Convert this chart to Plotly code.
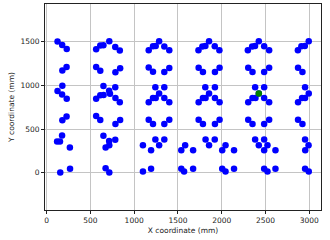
import plotly.graph_objects as go

# Blue points (mm)
x_blue = [
    125, 178, 230, 228, 180, 180, 125, 177, 230, 228, 180, 177, 120, 153, 266, 156, 268,
    566, 613, 649, 716, 784, 836, 566, 613, 786, 840,
    649, 784, 714, 724, 566, 613, 651, 786, 836,
    566, 613, 786, 840, 649, 784, 714, 716, 674, 674, 716,
    1166, 1215, 1246, 1285, 1344, 1401, 1166, 1215, 1344, 1401,
    1242, 1344, 1285, 1215, 1246, 1166, 1344, 1401,
    1166, 1215, 1344, 1401, 1100, 1193, 1242, 1285, 1344, 1100, 1193,
    1734, 1779, 1813, 1855, 1920, 1973, 1736, 1785, 1922, 1975,
    1812, 1922, 1855, 1785, 1815, 1736, 1922, 1975,
    1736, 1785, 1922, 1975, 1815, 1855, 1920,
    1538, 1582, 1673, 1538, 1570, 1673,
    2005, 2043, 2140, 2005, 2043, 2140,
    2298, 2347, 2380, 2423, 2484, 2541, 2302, 2351, 2484, 2541,
    2381, 2484, 2423, 2351, 2385, 2302, 2484, 2541,
    2302, 2351, 2484, 2541, 2381, 2423, 2484, 2484, 2522, 2613,
    2484, 2522, 2613,
    2869, 2909, 2948, 2993, 2871, 2921,
    2951, 2993, 2917, 2951, 2871, 2871, 2921,
    2951, 2991, 2953, 2951, 2993,
]
y_blue = [
    1500, 1460, 1415, 1208, 1168, 995, 933, 895, 846, 642, 600, 426, 358, 358, 289, 4, 46,
    1412, 1454, 1458, 1504, 1438, 1396, 1210, 1165, 1150, 1195,
    993, 978, 938, 904, 845, 887, 890, 853, 805,
    648, 603, 558, 602, 423, 377, 362, 314, 289, 50, 4,
    1401, 1445, 1448, 1504, 1444, 1399, 1203, 1155, 1152, 1198,
    978, 978, 906, 853, 853, 807, 853, 807,
    605, 556, 556, 605, 314, 257, 380, 314, 380, 13, 46,
    1399, 1443, 1448, 1504, 1447, 1399, 1199, 1153, 1153, 1199,
    978, 978, 906, 853, 853, 807, 853, 807,
    605, 556, 556, 605, 380, 314, 380,
    257, 314, 257, 46, 13, 46,
    257, 314, 257, 46, 13, 46,
    1399, 1443, 1448, 1504, 1447, 1399, 1199, 1153, 1153, 1199,
    978, 978, 906, 853, 853, 807, 853, 807,
    605, 556, 556, 605, 380, 314, 380, 257, 314, 257,
    46, 13, 46,
    1399, 1447, 1448, 1504, 1199, 1153,
    978, 906, 853, 853, 807, 605, 556,
    380, 314, 257, 46, 13,
]

# Highlighted point (mm)
x_green = [2423]
y_green = [906]

x_ticks = [0, 500, 1000, 1500, 2000, 2500, 3000]
y_ticks = [0, 500, 1000, 1500]

fig = go.Figure()
fig.add_trace(go.Scatter(x=x_blue, y=y_blue, mode="markers",
                         marker=dict(color="#0000ff", size=6.5, line=dict(width=0)),
                         showlegend=False))
fig.add_trace(go.Scatter(x=x_green, y=y_green, mode="markers",
                         marker=dict(color="#008000", size=6.5, line=dict(width=0)),
                         showlegend=False))

axis_common = dict(
    showgrid=True, gridcolor="#c4c4c4", gridwidth=1,
    zeroline=False, showline=True, linecolor="#222222", linewidth=1, mirror=True,
    ticks="outside", ticklen=3, tickcolor="#222222", tickwidth=1,
    tickfont=dict(family="DejaVu Sans", size=7.5, color="#222222"),
)

fig.update_layout(
    width=330, height=240,
    margin=dict(l=45, r=9, t=4, b=30),
    paper_bgcolor="white", plot_bgcolor="white",
    xaxis=dict(range=[-18, 3133], tickvals=x_ticks,
               title=dict(text="X coordinate (mm)", standoff=3,
                          font=dict(family="DejaVu Sans", size=7.5, color="#222222")),
               **axis_common),
    yaxis=dict(range=[-426, 1929], tickvals=y_ticks,
               title=dict(text="Y coordinate (mm)", standoff=4,
                          font=dict(family="DejaVu Sans", size=7.5, color="#222222")),
               **axis_common),
)

fig.write_html("out.html")
